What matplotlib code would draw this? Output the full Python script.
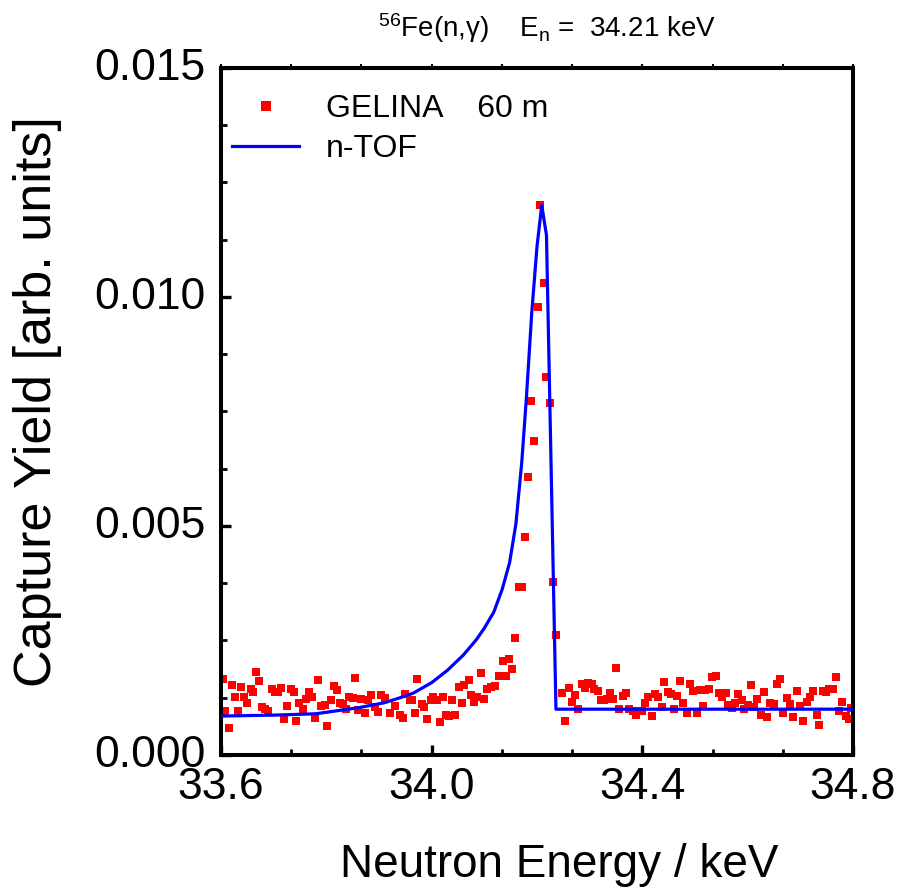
import matplotlib
matplotlib.use("Agg")
import matplotlib.pyplot as plt
from matplotlib.ticker import MultipleLocator, FormatStrFormatter
from matplotlib.transforms import ScaledTranslation

plt.rcParams['font.family'] = ['Liberation Sans', 'DejaVu Sans']
plt.rcParams['mathtext.fontset'] = 'custom'
plt.rcParams['mathtext.rm'] = 'Liberation Sans'
plt.rcParams['mathtext.it'] = 'Liberation Sans:italic'
plt.rcParams['mathtext.bf'] = 'Liberation Sans:bold'

# --- GELINA 60 m capture yield ---
gelina_e = [
    33.604, 33.604, 33.608, 33.615, 33.621, 33.626, 33.632, 33.637, 33.644, 33.650,
    33.656, 33.661, 33.667, 33.673, 33.678, 33.684, 33.689, 33.696, 33.702, 33.708,
    33.714, 33.720, 33.726, 33.732, 33.739, 33.743, 33.749, 33.756, 33.762, 33.767,
    33.773, 33.778, 33.784, 33.790, 33.797, 33.802, 33.808, 33.814, 33.820, 33.825,
    33.832, 33.838, 33.843, 33.851, 33.855, 33.860, 33.866, 33.873, 33.879, 33.885,
    33.892, 33.898, 33.904, 33.911, 33.921, 33.930, 33.940, 33.945, 33.949, 33.958,
    33.963, 33.968, 33.973, 33.981, 33.986, 33.992, 33.998, 34.003, 34.010, 34.016,
    34.021, 34.027, 34.033, 34.039, 34.045, 34.051, 34.057, 34.062, 34.070, 34.075,
    34.081, 34.087, 34.093, 34.099, 34.106, 34.113, 34.120, 34.128, 34.135, 34.141,
    34.147, 34.153, 34.158, 34.165, 34.171, 34.177, 34.182, 34.189, 34.195, 34.201,
    34.206, 34.213, 34.218, 34.224, 34.231, 34.236, 34.247, 34.254, 34.261, 34.267,
    34.273, 34.278, 34.285, 34.291, 34.297, 34.304, 34.309, 34.315, 34.321, 34.327,
    34.332, 34.339, 34.345, 34.350, 34.356, 34.363, 34.369, 34.375, 34.382, 34.388,
    34.394, 34.400, 34.405, 34.411, 34.418, 34.424, 34.430, 34.437, 34.442, 34.449,
    34.455, 34.460, 34.466, 34.471, 34.478, 34.484, 34.490, 34.497, 34.503, 34.509,
    34.515, 34.519, 34.527, 34.532, 34.539, 34.546, 34.552, 34.558, 34.563, 34.570,
    34.576, 34.582, 34.589, 34.594, 34.600, 34.606, 34.612, 34.618, 34.625, 34.631,
    34.637, 34.643, 34.650, 34.655, 34.661, 34.668, 34.674, 34.680, 34.687, 34.693,
    34.699, 34.706, 34.712, 34.718, 34.724, 34.731, 34.736, 34.743, 34.749, 34.755,
    34.762, 34.767, 34.773, 34.780, 34.786, 34.792, 34.797,
]
gelina_y = [
    0.00167, 0.00095, 0.00095, 0.00058, 0.00153, 0.00127, 0.00095, 0.00149, 0.00127, 0.00113,
    0.00144, 0.00137, 0.00182, 0.00162, 0.00104, 0.00100, 0.00097, 0.00143, 0.00138, 0.00138,
    0.00146, 0.00078, 0.00108, 0.00143, 0.00138, 0.00074, 0.00113, 0.00100, 0.00122, 0.00138,
    0.00126, 0.00080, 0.00164, 0.00107, 0.00109, 0.00063, 0.00120, 0.00151, 0.00142, 0.00113,
    0.00111, 0.00100, 0.00127, 0.00124, 0.00169, 0.00098, 0.00122, 0.00092, 0.00120, 0.00130,
    0.00105, 0.00093, 0.00131, 0.00124, 0.00091, 0.00107, 0.00087, 0.00080, 0.00133, 0.00120,
    0.00119, 0.00091, 0.00165, 0.00111, 0.00104, 0.00079, 0.00120, 0.00127, 0.00119, 0.00073,
    0.00127, 0.00087, 0.00085, 0.00120, 0.00087, 0.00148, 0.00114, 0.00153, 0.00164, 0.00131,
    0.00116, 0.00126, 0.00178, 0.00122, 0.00143, 0.00149, 0.00151, 0.00172, 0.00205, 0.00173,
    0.00209, 0.00187, 0.00255, 0.00366, 0.00367, 0.00475, 0.00606, 0.00773, 0.00686, 0.00978,
    0.01200, 0.01030, 0.00826, 0.00768, 0.00378, 0.00262, 0.00135, 0.00074, 0.00147, 0.00116,
    0.00131, 0.00100, 0.00154, 0.00146, 0.00158, 0.00156, 0.00143, 0.00140, 0.00119, 0.00119,
    0.00122, 0.00136, 0.00122, 0.00191, 0.00100, 0.00129, 0.00136, 0.00100, 0.00097, 0.00087,
    0.00097, 0.00097, 0.00114, 0.00127, 0.00085, 0.00133, 0.00127, 0.00105, 0.00159, 0.00138,
    0.00133, 0.00100, 0.00129, 0.00162, 0.00114, 0.00092, 0.00155, 0.00140, 0.00092, 0.00142,
    0.00107, 0.00142, 0.00143, 0.00170, 0.00172, 0.00136, 0.00126, 0.00135, 0.00109, 0.00102,
    0.00113, 0.00133, 0.00120, 0.00100, 0.00109, 0.00153, 0.00105, 0.00122, 0.00087, 0.00138,
    0.00084, 0.00113, 0.00111, 0.00155, 0.00165, 0.00091, 0.00124, 0.00111, 0.00084, 0.00140,
    0.00108, 0.00075, 0.00116, 0.00127, 0.00140, 0.00087, 0.00066, 0.00140, 0.00138, 0.00143,
    0.00143, 0.00170, 0.00095, 0.00116, 0.00085, 0.00079, 0.00102,
]

# --- n-TOF curve ---
ntof_e = [33.60, 33.70, 33.78, 33.86, 33.91, 33.94, 33.965, 34.00, 34.03, 34.06,
          34.085, 34.10, 34.118, 34.134, 34.148, 34.160, 34.171, 34.180, 34.190, 34.200,
          34.209, 34.218, 34.236, 34.80]
ntof_y = [0.00085, 0.00087, 0.00090, 0.00103, 0.00114, 0.00125, 0.00135, 0.00158, 0.00185, 0.00218,
          0.00252, 0.00277, 0.00312, 0.00362, 0.00420, 0.00505, 0.00638, 0.00782, 0.00965, 0.01110,
          0.01200, 0.01135, 0.00100, 0.00100]

fig = plt.figure(figsize=(9.01, 8.92), dpi=100)
ax = fig.add_axes([0.2453, 0.1536, 0.7014, 0.7702])

ax.plot(gelina_e, gelina_y, linestyle='none', marker='s', markersize=5.4,
        color='#ff0000', markeredgewidth=0, label='GELINA    60 m', zorder=2)
ax.plot(ntof_e, ntof_y, color='#0000ff', linewidth=2.3, label='n-TOF', zorder=3)

ax.set_xlim(33.6, 34.8)
ax.set_ylim(0.0, 0.015)
ax.xaxis.set_major_locator(MultipleLocator(0.4))
ax.xaxis.set_minor_locator(MultipleLocator(0.4 / 3))
ax.yaxis.set_major_locator(MultipleLocator(0.005))
ax.yaxis.set_minor_locator(MultipleLocator(0.00125))
ax.xaxis.set_major_formatter(FormatStrFormatter('%.1f'))
ax.yaxis.set_major_formatter(FormatStrFormatter('%.3f'))

for s in ax.spines.values():
    s.set_linewidth(2.9)

ax.tick_params(axis='both', which='major', direction='in', length=7.5, width=2.4,
               labelsize=32)
ax.tick_params(axis='both', which='minor', direction='in', length=4, width=2.0)
ax.tick_params(axis='x', which='major', pad=9)
ax.tick_params(axis='y', which='major', pad=11)

# nudge y tick labels slightly upwards like the original
for lab in ax.get_yticklabels():
    lab.set_transform(lab.get_transform() + ScaledTranslation(0, 3 / 72, fig.dpi_scale_trans))

# short outward ticks on the top edge
top = ax.secondary_xaxis('top')
top.xaxis.set_major_locator(MultipleLocator(0.4))
top.xaxis.set_minor_locator(MultipleLocator(0.4 / 3))
top.tick_params(axis='x', which='both', direction='out', length=3, width=1.5,
                labeltop=False)
top.spines['top'].set_linewidth(2.9)

ax.set_xlabel('Neutron Energy / keV', fontsize=33)
ax.xaxis.set_label_coords(0.536, -0.128)
ax.set_ylabel('Capture Yield [arb. units]', fontsize=37.5)
ax.yaxis.set_label_coords(-0.252, 0.514)

leg = ax.legend(loc='upper left', bbox_to_anchor=(0.0174, 0.962), frameon=False,
                fontsize=23, numpoints=1, handlelength=2.1, handletextpad=0.85,
                labelspacing=0.32, borderpad=0, borderaxespad=0, markerscale=1.25)

fig.text(0.607, 0.958, r'$^{56}$Fe(n,γ)    E$_{\rm n}$ =  34.21 keV',
         ha='center', va='baseline', fontsize=20)

fig.savefig('out.png', dpi=100)
